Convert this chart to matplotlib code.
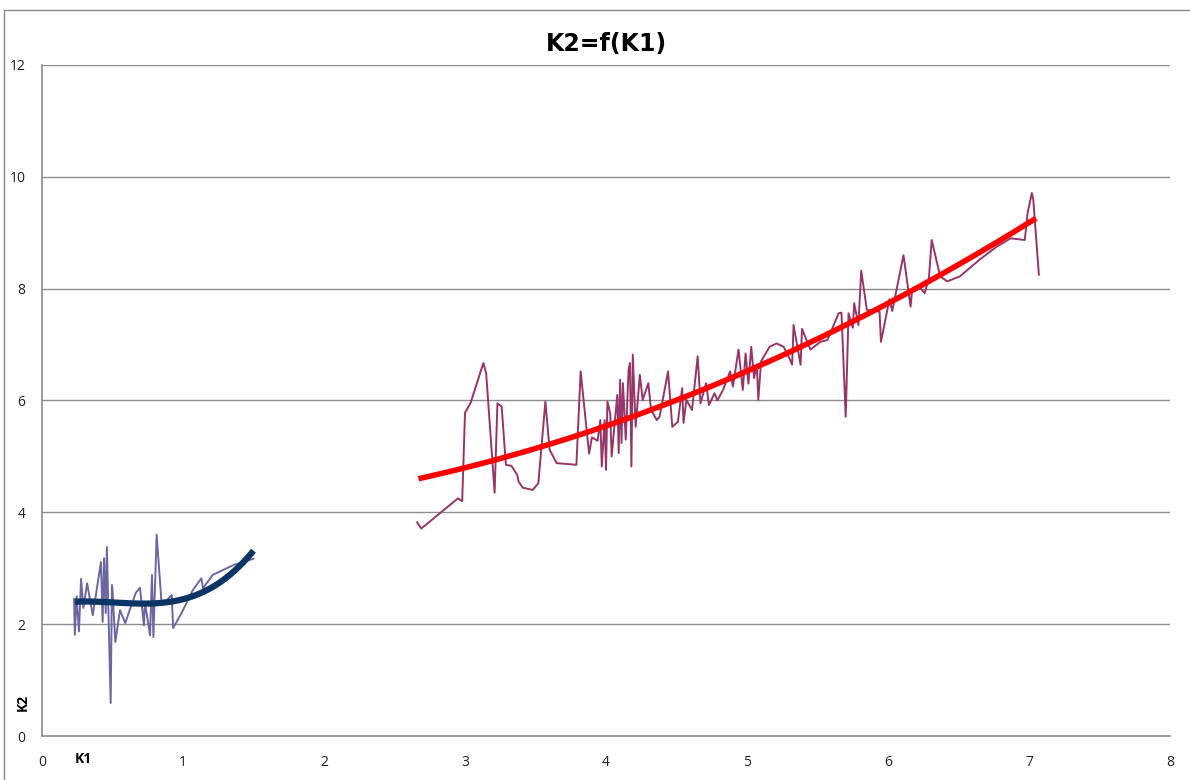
import numpy as np
import matplotlib
matplotlib.use("Agg")
import matplotlib.pyplot as plt
from matplotlib.lines import Line2D

matplotlib.rcParams.update({
    "font.family": ["Open Sans", "DejaVu Sans"],
    "font.size": 10,
})

# ── left cluster (K1 < 1.5) ───────────────────────────────
k1_left = [0.227, 0.233, 0.245, 0.262, 0.277, 0.293, 0.320, 0.360, 0.418,
           0.430, 0.440, 0.452, 0.460, 0.487, 0.496, 0.500, 0.520, 0.553,
           0.590, 0.665, 0.695, 0.723, 0.730, 0.766, 0.780, 0.790, 0.813,
           0.849, 0.920, 0.930, 0.990, 1.070, 1.130, 1.142, 1.210, 1.360,
           1.500]
k2_left = [2.45, 1.81, 2.50, 1.87, 2.81, 2.29, 2.73, 2.16, 3.11,
           2.04, 3.18, 2.20, 3.38, 0.59, 2.70, 2.60, 1.68, 2.25,
           2.02, 2.56, 2.65, 1.98, 2.40, 1.80, 2.88, 1.77, 3.60,
           2.34, 2.52, 1.93, 2.20, 2.61, 2.82, 2.64, 2.88, 3.06,
           3.17]

# ── right cluster (K1 > 2.6) ──────────────────────────────
k1_right = [2.66, 2.69, 2.95, 2.98, 3.00, 3.04, 3.13, 3.15, 3.21, 3.23,
            3.26, 3.29, 3.33, 3.37, 3.38, 3.41, 3.48, 3.52, 3.57, 3.60,
            3.65, 3.79, 3.82, 3.88, 3.90, 3.94, 3.96, 3.97, 3.99, 4.00,
            4.01, 4.03, 4.04, 4.08, 4.09, 4.10, 4.11, 4.12, 4.14, 4.16,
            4.17, 4.18, 4.19, 4.21, 4.24, 4.26, 4.30, 4.32, 4.36, 4.38,
            4.44, 4.47, 4.51, 4.54, 4.55, 4.57, 4.61, 4.65, 4.67, 4.71,
            4.73, 4.77, 4.79, 4.83, 4.88, 4.90, 4.94, 4.97, 4.99, 5.01,
            5.03, 5.05, 5.07, 5.08, 5.10, 5.16, 5.21, 5.26, 5.30, 5.32,
            5.33, 5.38, 5.39, 5.45, 5.52, 5.57, 5.65, 5.67, 5.70, 5.72,
            5.75, 5.76, 5.79, 5.81, 5.85, 5.94, 5.95, 6.01, 6.03, 6.11,
            6.16, 6.17, 6.23, 6.26, 6.29, 6.31, 6.37, 6.42, 6.51, 6.65,
            6.77, 6.87, 6.97, 6.99, 7.02, 7.03, 7.07]
k2_right = [3.82, 3.71, 4.25, 4.20, 5.78, 5.96, 6.67, 6.49, 4.35, 5.95,
            5.89, 4.85, 4.83, 4.67, 4.55, 4.44, 4.40, 4.52, 5.98, 5.12,
            4.88, 4.85, 6.52, 5.05, 5.34, 5.28, 5.65, 4.82, 5.65, 4.76,
            5.98, 5.77, 5.00, 6.10, 5.06, 6.37, 5.24, 6.31, 5.30, 6.55,
            6.67, 4.82, 6.82, 5.53, 6.46, 6.01, 6.31, 5.83, 5.65, 5.71,
            6.52, 5.53, 5.62, 6.22, 5.60, 6.01, 5.83, 6.79, 5.95, 6.31,
            5.92, 6.13, 6.00, 6.19, 6.52, 6.25, 6.91, 6.19, 6.84, 6.30,
            6.96, 6.40, 6.64, 6.01, 6.70, 6.96, 7.02, 6.96, 6.76, 6.64,
            7.35, 6.64, 7.28, 6.91, 7.05, 7.08, 7.56, 7.57, 5.71, 7.56,
            7.30, 7.74, 7.35, 8.32, 7.62, 7.59, 7.05, 7.81, 7.60, 8.60,
            7.68, 7.95, 8.01, 7.92, 8.19, 8.87, 8.22, 8.13, 8.22, 8.52,
            8.75, 8.90, 8.87, 9.35, 9.71, 9.60, 8.25]

# ── trend lines ───────────────────────────────────────────
trend_left_k1 = [0.234, 0.695, 0.837, 1.05, 1.26, 1.50]
trend_left_k2 = [2.40, 2.38, 2.37, 2.47, 2.76, 3.31]
trend_right_k1 = [2.67, 3.82, 4.38, 5.00, 5.52, 5.80, 7.05]
trend_right_k2 = [4.62, 5.35, 5.87, 6.58, 7.12, 7.48, 9.25]

x_ticks = [0, 1, 2, 3, 4, 5, 6, 7, 8]
y_ticks = [0, 2, 4, 6, 8, 10, 12]

GRID = "#8c8c8c"

fig = plt.figure(figsize=(11.9, 7.8), dpi=100)
ax = fig.add_axes([0.0353, 0.0564, 0.9479, 0.8603])

for y in y_ticks[1:]:
    ax.axhline(y, color=GRID, lw=1.0, zorder=1)

ax.plot(k1_left, k2_left, color="#6b67a3", lw=1.4,
        solid_joinstyle="round", zorder=3)
ax.plot(k1_right, k2_right, color="#973468", lw=1.4,
        solid_joinstyle="round", zorder=3)

# polynomial trends (Excel style)
cl = np.polyfit(trend_left_k1, trend_left_k2, 3)
xl = np.linspace(trend_left_k1[0], trend_left_k1[-1], 200)
ax.plot(xl, np.polyval(cl, xl), color="#0b3564", lw=4.5,
        solid_capstyle="butt", zorder=4)

cr = np.polyfit(trend_right_k1, trend_right_k2, 2)
xr = np.linspace(trend_right_k1[0], trend_right_k1[-1], 200)
ax.plot(xr, np.polyval(cr, xr), color="#ff0000", lw=4.0,
        solid_capstyle="butt", zorder=4)

ax.set_xlim(0, 8)
ax.set_ylim(0, 12)
ax.set_xticks(x_ticks)
ax.set_yticks(y_ticks)
ax.tick_params(length=0, labelsize=10, colors="#222222", pad=14)
ax.tick_params(axis="y", pad=12)

for side in ("top", "right"):
    ax.spines[side].set_visible(False)
for side in ("left", "bottom"):
    ax.spines[side].set_color(GRID)
    ax.spines[side].set_linewidth(1.2)

ax.set_title("K2=f(K1)", fontsize=17, fontweight="bold",
             family=["Liberation Sans Narrow", "DejaVu Sans"], pad=10)

# axis titles placed where Excel left them
fig.text(0.070, 0.027, "K1", fontsize=10, fontweight="bold",
         ha="center", va="center")
fig.text(0.019, 0.100, "K2", fontsize=10, fontweight="bold",
         ha="center", va="center", rotation=90)

# chart border (top and left)
fig.add_artist(Line2D([0.0034, 0.0034], [0, 0.987], color="#888888",
                      lw=1.0, transform=fig.transFigure))
fig.add_artist(Line2D([0.0034, 1.0], [0.987, 0.987], color="#888888",
                      lw=1.0, transform=fig.transFigure))

fig.savefig("out.png", dpi=100)
